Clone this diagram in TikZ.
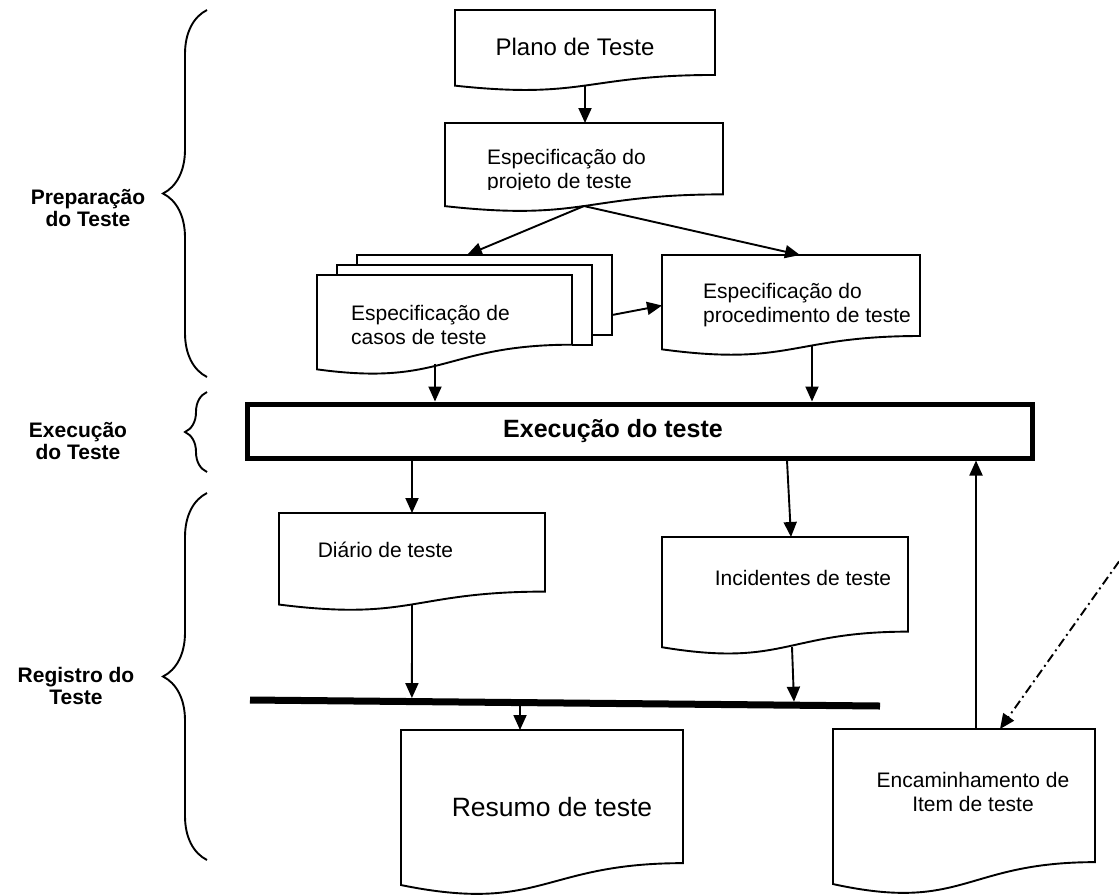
\documentclass[tikz,border=0pt]{standalone}
\usepackage{fontspec}
\setmainfont{Liberation Sans}
\usetikzlibrary{calc}
\usetikzlibrary{arrows.meta}
\usetikzlibrary{decorations.pathreplacing}
\tikzset{>={Triangle[length=15pt,width=13pt]}}
\tikzset{
	% document boxes
	docbox/.style={rectangle,inner sep=0pt,outer sep=0pt,anchor=north west},
	docline/.style={line width=1.9pt},
	doctext/.style={font=\fontsize{21}{24}\selectfont,align=left},
	% labels on the left
	grouplabel/.style={font=\fontsize{21}{22}\selectfont\bfseries,align=center},
	% connectors
	flow/.style={line width=1.9pt,->},
	bracket/.style={line width=1.9pt,decorate,decoration={brace,amplitude=#1}},
}
% wavy bottom of a document
\newcommand{\docframe}[2][0.802]{%
  \pgfmathsetmacro{\docmid}{0.5*#1+0.532}%
  \draw[docline] (#2.north west) -- (#2.north east)
    -- ($(#2.north east)!#1!(#2.south east)$)
    .. controls ($(#2.north)!#1!(#2.south)$) and ($(#2.north)!1.107!(#2.south)$)
    .. ($(#2.north west)!0.934!(#2.south west)$) -- cycle;
  \coordinate (#2-b) at ($(#2.north)!\docmid!(#2.south)$);}

\begin{document}
\begin{tikzpicture}[x=1pt,y=-1pt]
\useasboundingbox (0,0) rectangle (1119,895);
% group labels and braces
\node[grouplabel] (prep) at (88,208) {Preparação\\do Teste};
\node[grouplabel] (exe) at (78,441) {Execução\\do Teste};
\node[grouplabel] (reg) at (76,686) {Registro do\\Teste};
\draw[bracket=44pt] (207,377) -- (207,10);
\draw[bracket=22pt] (207,472) -- (207,392);
\draw[bracket=44pt] (207,860) -- (207,493);
% documents
\node[docbox,minimum width=260pt,minimum height=81pt,
  label={[doctext,font=\fontsize{24}{28}\selectfont,xshift=-10pt,yshift=3.5pt]center:{Plano de Teste}}] (plano) at (455,10) {};
\begin{scope}
\clip (440,118) rectangle (730,189);
\node[docbox,minimum width=278pt,minimum height=89pt,
  label={[doctext,xshift=-17.5pt,yshift=-4pt]center:{Especificação do\\projeto de teste}}] (projeto) at (445,123) {};
\end{scope}
\node[docbox,minimum width=255pt,minimum height=101pt,
  label={[doctext,xshift=-14pt,yshift=1pt]center:{Especificação de\\casos de teste}}] (casos) at (317,275) {};
\node[docbox,minimum width=258pt,minimum height=101pt,
  label={[doctext,xshift=16pt]center:{Especificação do\\procedimento de teste}}] (proced) at (662,255) {};
\node[docbox,minimum width=266pt,minimum height=98pt,
  label={[doctext,xshift=-26.5pt,yshift=12pt]center:{Diário de teste}}] (diario) at (279,513) {};
\node[docbox,minimum width=246pt,minimum height=118pt,
  label={[doctext,xshift=18pt,yshift=18pt]center:{Incidentes de teste}}] (incid) at (662,537) {};
\node[docbox,minimum width=282pt,minimum height=166pt,
  label={[doctext,font=\fontsize{26.5}{30}\selectfont,xshift=10pt,yshift=6pt]center:{Resumo de teste}}] (resumo) at (401,730) {};
\node[docbox,minimum width=262pt,minimum height=166pt,
  label={[doctext,align=center,xshift=9pt,yshift=20.5pt]center:{Encaminhamento de\\Item de teste}}] (encam) at (833,729) {};
\docframe{plano}
\docframe{projeto}
\docframe[0.69]{casos}
\docframe{proced}
\docframe{diario}
\docframe{incid}
\docframe{resumo}
\docframe{encam}
% sheets behind the test cases
\draw[docline] ([xshift=20pt]casos.north west) -- ++(0,-10) -- ++(255,0) -- ++(0,80) -- ++(-20,0);
\draw[docline] ([shift={(40,-10)}]casos.north west) -- ++(0,-10) -- ++(255,0) -- ++(0,80) -- ++(-20,0);
% execution box
\node[draw,line width=5pt,minimum width=785pt,minimum height=54pt,inner sep=0pt,
  label={[font=\fontsize{25}{30}\selectfont\bfseries,xshift=-26.5pt]center:{Execução do teste}}] (exec) at (639.5,431) {};
% bar joining the records
\coordinate (bar-l) at (250,700);
\coordinate (bar-r) at (880,706);
\draw[line width=7pt] (bar-l) -- (bar-r);
\coordinate (ext) at (1130,546);
% arrows
\draw[flow] (plano-b) -- (plano-b |- projeto.north);
\draw[flow] (projeto-b) -- ([shift={(150,-20)}]casos.north west);
\draw[flow] (projeto-b) -- ([xshift=9pt]proced.north);
\draw[flow] ([shift={(295,40)}]casos.north west) -- (proced.west);
\draw[flow] ([xshift=-9.5pt]casos-b) -- ([xshift=-9.5pt]casos-b |- exec.north);
\draw[flow] ([xshift=21pt,yshift=3.5pt]proced-b) -- ([xshift=21pt]proced-b |- exec.north);
\draw[flow] (exec.south -| diario.north) -- (diario.north);
\draw[flow] ([xshift=2pt]incid.north |- exec.south) -- ([xshift=6pt]incid.north);
\draw[flow] (diario-b) -- ($(bar-l)!0.257!(bar-r)+(0,-3.5)$);
\draw[flow] ([xshift=7pt]incid-b) -- ($(bar-l)!0.8635!(bar-r)+(0,-3.5)$);
\draw[flow] ($(bar-l)!0.4286!(bar-r)$) -- ([xshift=-22pt]resumo.north);
\draw[flow] ([xshift=12pt]encam.north) -- ([xshift=12pt]encam.north |- exec.south);
\draw[flow,dash pattern=on 9pt off 4pt on 2pt off 4pt] (ext) -- ([xshift=36pt]encam.north);
\end{tikzpicture}
\end{document}
